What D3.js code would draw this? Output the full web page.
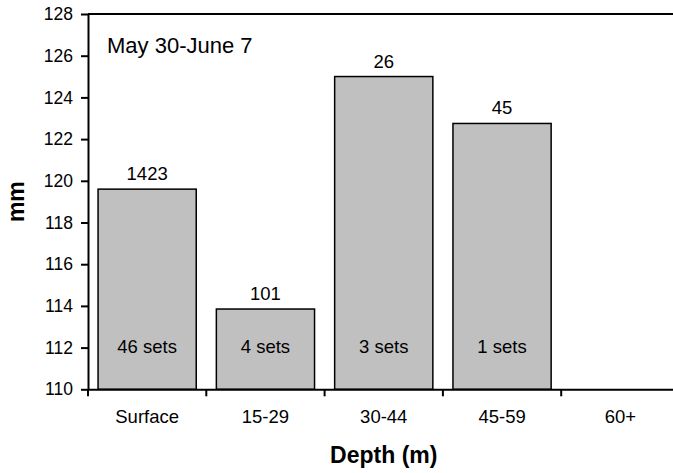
<!DOCTYPE html>
<html><head><meta charset="utf-8">
<script src="https://cdn.jsdelivr.net/npm/d3@7"></script>
<style>body{margin:0;background:#fff}svg{display:block;font-family:"Liberation Sans",Arial,sans-serif}</style>
</head><body>
<script>
const categories = ["Surface","15-29","30-44","45-59","60+"];
const values = [119.6, 113.85, 125.0, 122.75, null];
const counts = ["1423","101","26","45",null];
const sets = ["46 sets","4 sets","3 sets","1 sets",null];
const yTicks = [110,112,114,116,118,120,122,124,126,128];
const title = "May 30-June 7";

const W=673,H=473, L=88, R=679.5, T=14, B=389.3;
const svg=d3.select("body").append("svg").attr("width",W).attr("height",H);
const x=d3.scaleBand().domain(categories).range([L,R]).paddingInner(0.17).paddingOuter(0.085);
const xb=d3.scaleBand().domain(categories).range([L,R]);
const y=d3.scaleLinear().domain([110,128]).range([B,T]);

// bars
categories.forEach((c,i)=>{
  if(values[i]==null) return;
  svg.append("rect").attr("x",x(c)).attr("y",y(values[i])).attr("width",x.bandwidth()).attr("height",y(110)-y(values[i]))
    .attr("fill","#c0c0c0").attr("stroke","#000").attr("stroke-width",1.5);
  svg.append("text").attr("x",x(c)+x.bandwidth()/2).attr("y",y(values[i])-9).attr("text-anchor","middle")
    .attr("font-size",18.5).text(counts[i]);
  svg.append("text").attr("x",x(c)+x.bandwidth()/2).attr("y",y(112)+5.5).attr("text-anchor","middle")
    .attr("font-size",18.5).text(sets[i]);
});

// frame top
svg.append("line").attr("x1",L).attr("x2",R).attr("y1",T).attr("y2",T).attr("stroke","#000").attr("stroke-width",2);

// y axis
const ya=svg.append("g").attr("transform",`translate(${L},0)`)
  .call(d3.axisLeft(y).tickValues(yTicks).tickSize(7).tickPadding(8).tickSizeOuter(0));
ya.selectAll("path,line").attr("stroke","#000").attr("stroke-width",2);
ya.selectAll("text").attr("font-size",17.5).attr("fill","#000").attr("font-family","Liberation Sans, Arial, sans-serif");

// x axis
const xa=svg.append("g").attr("transform",`translate(0,${B})`)
  .call(d3.axisBottom(xb).tickSize(0).tickPadding(21).tickSizeOuter(0));
xa.select("path").attr("stroke","#000").attr("stroke-width",2);
xa.selectAll("text").attr("font-size",18.5).attr("fill","#000").attr("font-family","Liberation Sans, Arial, sans-serif");
// x ticks at band boundaries
xa.selectAll(".bt").data(categories).enter().append("line").attr("class","bt")
  .attr("x1",d=>xb(d)).attr("x2",d=>xb(d)).attr("y1",0).attr("y2",7).attr("stroke","#000").attr("stroke-width",2);

// axis titles
svg.append("text").attr("x",(L+R)/2).attr("y",463).attr("text-anchor","middle").attr("font-size",23).attr("font-weight","bold").text("Depth (m)");
svg.append("text").attr("transform",`translate(24,${(T+B)/2}) rotate(-90)`).attr("text-anchor","middle").attr("font-size",23).attr("font-weight","bold").text("mm");

// title
svg.append("text").attr("x",107).attr("y",53).attr("font-size",22).text(title);
</script>
</body></html>
